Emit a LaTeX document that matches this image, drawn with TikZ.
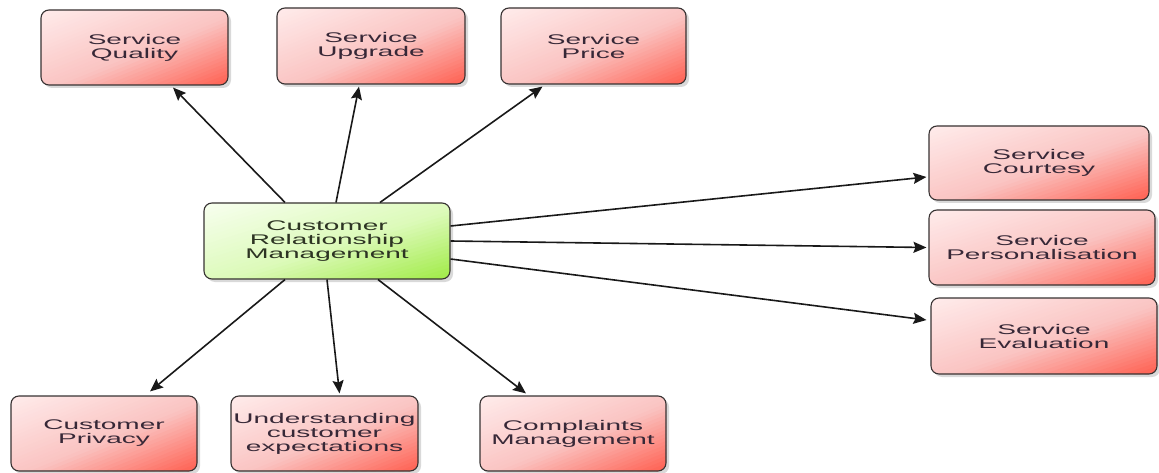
\documentclass[tikz,border=0pt]{standalone}
\usepackage{fontspec}
\newfontfamily\boxfont[FakeStretch=2.0]{Liberation Sans}
\usetikzlibrary{arrows.meta,shadows,calc}
\definecolor{txt}{RGB}{55,40,55}
\definecolor{gtxt}{RGB}{45,52,35}
\definecolor{edge}{RGB}{55,50,50}
\definecolor{rA}{RGB}{255,236,236}
\definecolor{rB}{RGB}{250,196,194}
\definecolor{rC}{RGB}{255,95,80}
\definecolor{gA}{RGB}{248,255,240}
\definecolor{gB}{RGB}{220,250,185}
\definecolor{gC}{RGB}{160,235,70}
\newcommand\gradfill[3]{%
  \path (path picture bounding box.north west) coordinate (gnw)
        (path picture bounding box.south east) coordinate (gse);
  \foreach \k in {0,...,39}{%
    \pgfmathsetmacro\ca{\k/40}%
    \pgfmathsetmacro\cb{\k==39 ? 1.5 : (\k+1.5)/40}%
    \pgfmathsetmacro\tv{(\k+0.5)/40}%
    \pgfmathsetmacro\pone{min(100,\tv/0.55*100)}%
    \pgfmathsetmacro\ptwo{max(0,(\tv-0.55)/0.45*100)}%
    \colorlet{gtmpa}{#2!\pone!#1}%
    \colorlet{gtmpb}{#3!\ptwo!gtmpa}%
    \fill[gtmpb] let \p1=(gnw), \p2=(gse), \n1={\x2-\x1}, \n2={\y1-\y2} in
      ({\x1+(2*\ca+1)*\n1},{\y1+\n2}) -- ({\x1-\n1},{\y1-(2*\ca+1)*\n2})
      -- ({\x1-\n1},{\y1-(2*\cb+1)*\n2}) -- ({\x1+(2*\cb+1)*\n1},{\y1+\n2}) -- cycle;
  }}
\tikzset{
  boxbase/.style={draw=edge, line width=1.1pt, rounded corners=8pt, align=center,
    inner sep=0pt, text=txt, font=\boxfont\fontsize{14}{14}\selectfont,
    drop shadow={shadow xshift=3pt, shadow yshift=-3pt, opacity=0.15, fill=black}},
  redbox/.style={boxbase, fill=rA, path picture={\gradfill{rA}{rB}{rC}}},
  greenbox/.style={boxbase, fill=gA, text=gtxt, path picture={\gradfill{gA}{gB}{gC}}},
  arr/.style={draw=black!90, line width=1.6pt, -{Stealth[length=13pt,width=11pt,inset=2pt]}}
}
\begin{document}
\begin{tikzpicture}[x=1pt,y=-1pt]
\useasboundingbox (0,0) rectangle (1159,473);
\node[redbox, minimum width=187pt, minimum height=75pt] (sq) at (134.5,47.5) {Service\\Quality};
\node[redbox, minimum width=188pt, minimum height=76pt] (su) at (371,46) {Service\\Upgrade};
\node[redbox, minimum width=185pt, minimum height=76pt] (sp) at (593.5,46) {Service\\Price};
\node[greenbox, minimum width=246pt, minimum height=76pt] (crm) at (327,241) {Customer\\Relationship\\Management};
\node[redbox, minimum width=220pt, minimum height=74pt] (sc) at (1039,163) {Service\\Courtesy};
\node[redbox, minimum width=226pt, minimum height=75pt] (spe) at (1042,247.5) {Service\\Personalisation};
\node[redbox, minimum width=226pt, minimum height=76pt] (se) at (1044,336) {Service\\Evaluation};
\node[redbox, minimum width=186pt, minimum height=75pt] (cp) at (104,433.5) {Customer\\Privacy};
\node[redbox, minimum width=187pt, minimum height=75pt] (uce) at (324.5,433.5) {Understanding\\customer\\expectations};
\node[redbox, minimum width=186pt, minimum height=75pt] (cm) at (573,433.5) {Complaints\\Management};
\draw[arr] ([xshift=-42pt]crm.north) -- ([xshift=38.5pt,yshift=-2pt]sq.south);
\draw[arr] ([xshift=9pt]crm.north) -- ([xshift=-12pt,yshift=-2pt]su.south);
\draw[arr] ([xshift=53pt]crm.north) -- ([xshift=-51pt,yshift=-2pt]sp.south);
\draw[arr] ([yshift=15pt]crm.east) -- ([xshift=-2pt,yshift=-14pt]sc.west);
\draw[arr] (crm.east) -- ([xshift=-2pt]spe.west);
\draw[arr] ([yshift=-18pt]crm.east) -- ([xshift=-4pt,yshift=16pt]se.west);
\draw[arr] ([xshift=-42pt]crm.south) -- ([xshift=46pt,yshift=4pt]cp.north);
\draw[arr] (crm.south) -- ([xshift=15pt,yshift=2pt]uce.north);
\draw[arr] ([xshift=51pt]crm.south) -- ([xshift=-47pt,yshift=2pt]cm.north);
\end{tikzpicture}
\end{document}
